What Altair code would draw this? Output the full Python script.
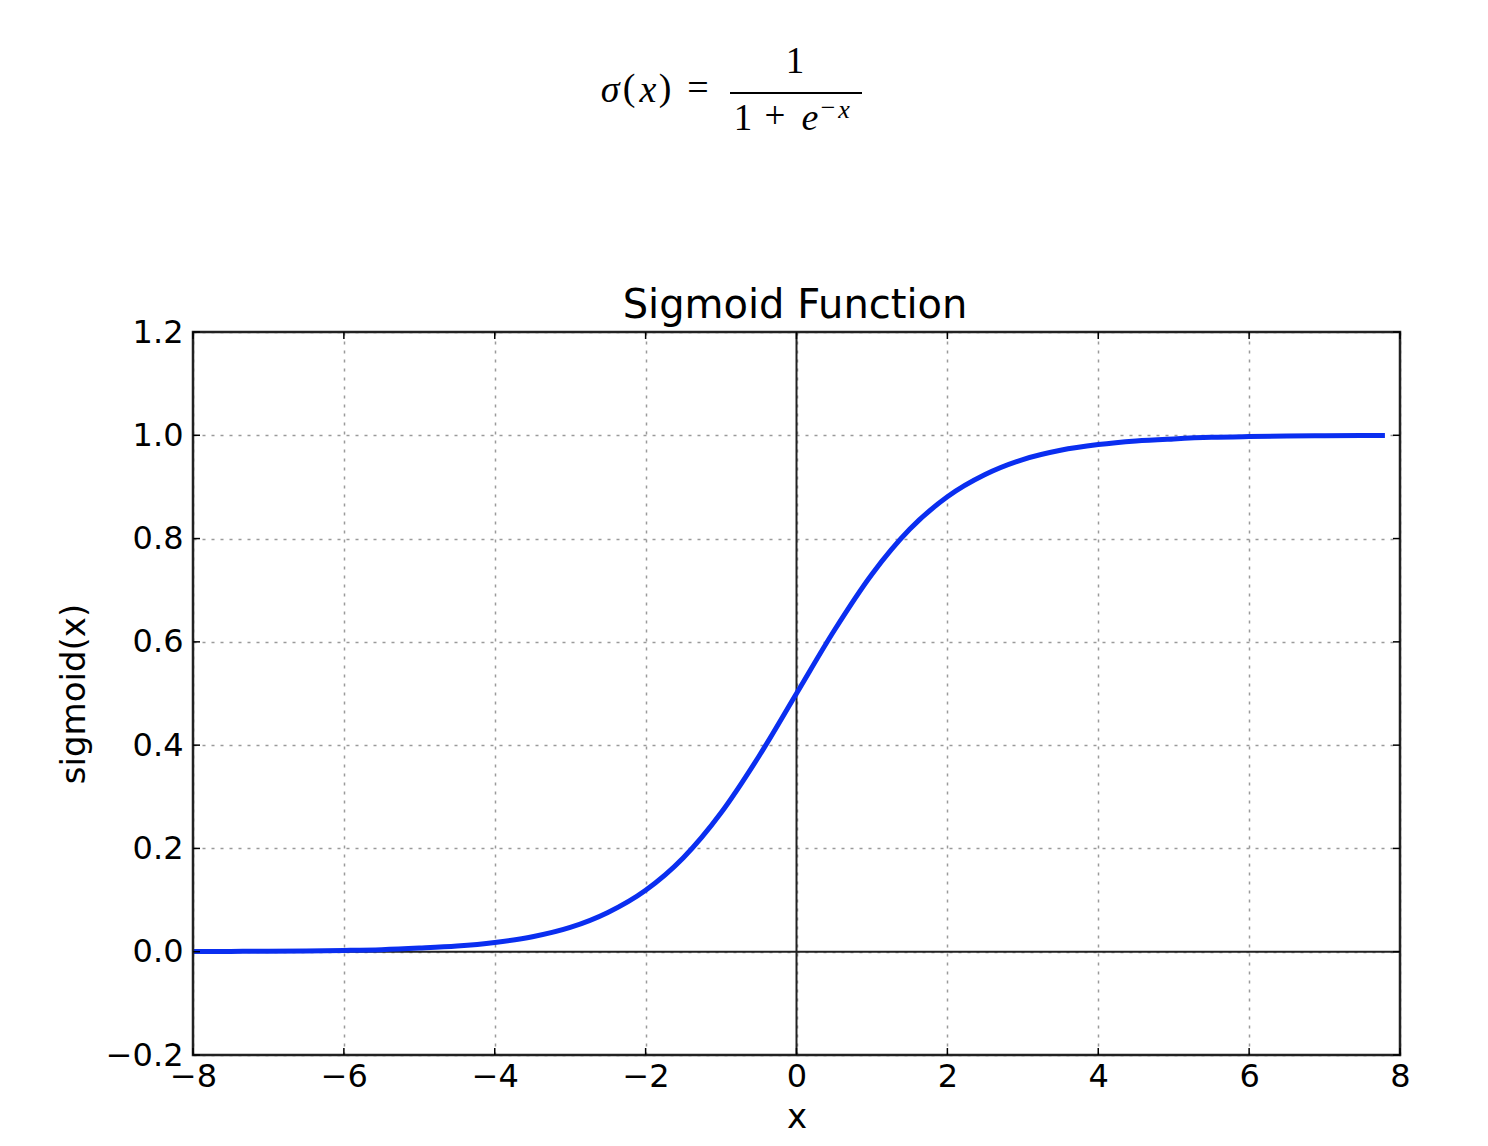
import altair as alt
import pandas as pd

# --- data ---
curve_x = [-8, -7.5, -7, -6.5, -6, -5.5, -5, -4.5, -4, -3.5, -3, -2.5, -2, -1.5, -1, -0.5,
           0, 0.5, 1, 1.5, 2, 2.5, 3, 3.5, 4, 4.5, 5, 5.5, 6, 6.5, 7, 7.5, 7.8]
curve_y = [0.0003, 0.0006, 0.0009, 0.0015, 0.0025, 0.004, 0.007, 0.011, 0.018, 0.029, 0.047,
           0.076, 0.119, 0.182, 0.269, 0.378, 0.5, 0.622, 0.731, 0.818, 0.881, 0.924, 0.953,
           0.971, 0.982, 0.989, 0.993, 0.996, 0.9975, 0.9985, 0.999, 0.9994, 0.9996]
x_ticks = [-8, -6, -4, -2, 0, 2, 4, 6, 8]
y_ticks = [-0.2, 0.0, 0.2, 0.4, 0.6, 0.8, 1.0, 1.2]
title_text = "Sigmoid Function"
x_title = "x"
y_title = "sigmoid(x)"

W, H = 1207, 723
TICK = 7
SANS = "DejaVu Sans"
SERIF = "Liberation Serif"

curve = pd.DataFrame({"x": curve_x, "y": curve_y})
xt = pd.DataFrame({"x": x_ticks})
yt = pd.DataFrame({"y": y_ticks})
zero = pd.DataFrame({"v": [0]})

xscale = alt.Scale(domain=[-8, 8], nice=False, zero=False)
yscale = alt.Scale(domain=[-0.2, 1.2], nice=False, zero=False)

xaxis = alt.Axis(values=x_ticks, format="d", title=x_title, labelFlush=False,
                 labelOverlap=False, labelPadding=6, titlePadding=8)
yaxis = alt.Axis(values=y_ticks, format=".1f", title=y_title, labelFlush=False,
                 labelOverlap=False, labelPadding=10, titlePadding=14)

line = alt.Chart(curve).mark_line(color="#0a2ef0", strokeWidth=5, interpolate="monotone").encode(
    x=alt.X("x:Q", scale=xscale, axis=xaxis),
    y=alt.Y("y:Q", scale=yscale, axis=yaxis),
)

zero_v = alt.Chart(zero).mark_rule(color="#222222", strokeWidth=2).encode(
    x=alt.X("v:Q", scale=xscale))
zero_h = alt.Chart(zero).mark_rule(color="#222222", strokeWidth=2).encode(
    y=alt.Y("v:Q", scale=yscale))

tick_style = dict(color="black", strokeWidth=1.5)
xt_bot = alt.Chart(xt).mark_rule(**tick_style).encode(
    x=alt.X("x:Q", scale=xscale), y=alt.value(H), y2=alt.value(H - TICK))
xt_top = alt.Chart(xt).mark_rule(**tick_style).encode(
    x=alt.X("x:Q", scale=xscale), y=alt.value(0), y2=alt.value(TICK))
yt_left = alt.Chart(yt).mark_rule(**tick_style).encode(
    y=alt.Y("y:Q", scale=yscale), x=alt.value(0), x2=alt.value(TICK))
yt_right = alt.Chart(yt).mark_rule(**tick_style).encode(
    y=alt.Y("y:Q", scale=yscale), x=alt.value(W), x2=alt.value(W - TICK))

# solid frame around the plot area
frame = alt.Chart(zero).mark_rect(fillOpacity=0, stroke="#222222", strokeWidth=2.5).encode(
    x=alt.value(0), x2=alt.value(W), y=alt.value(0), y2=alt.value(H))

# chart title as a text mark (so the formula above does not push it)
title_mark = alt.Chart(pd.DataFrame({"t": [title_text]})).mark_text(
    font=SANS, fontSize=40, align="center", baseline="alphabetic", color="black"
).encode(text="t:N", x=alt.value(602), y=alt.value(-14))

# --- formula sigma(x) = 1 / (1 + e^{-x}) as text pieces ---
formula_pieces = [
    # text, x, y(baseline), size, italic
    ("σ", 417, -230, 38, True),
    ("(", 436, -232, 38, False),
    ("x", 455, -230, 38, True),
    (")", 472, -232, 38, False),
    ("=", 505, -232, 38, False),
    ("1", 602, -259, 37, False),
    ("1", 550, -202, 37, False),
    ("+", 582, -204, 37, False),
    ("e", 617, -202, 38, True),
    ("−", 635, -216, 26, False),
    ("x", 651, -214, 26, True),
]
formula_layers = []
for txt, px, py, sz, it in formula_pieces:
    formula_layers.append(
        alt.Chart(pd.DataFrame({"t": [txt]})).mark_text(
            font=SERIF, fontSize=sz, fontStyle="italic" if it else "normal",
            align="center", baseline="alphabetic", color="black"
        ).encode(text="t:N", x=alt.value(px), y=alt.value(py))
    )
bar = alt.Chart(zero).mark_rule(color="black", strokeWidth=2).encode(
    x=alt.value(537), x2=alt.value(669), y=alt.value(-239))

chart = alt.layer(
    zero_v, zero_h, line, frame, xt_bot, xt_top, yt_left, yt_right, title_mark, bar,
    *formula_layers
).properties(
    width=W, height=H,
    background="white",
    autosize=alt.AutoSizeParams(type="none"),
    padding={"left": 185, "top": 324, "right": 80, "bottom": 80},
).configure_view(
    stroke="black", strokeWidth=2
).configure_axis(
    labelFont=SANS, labelFontSize=32, labelColor="black",
    titleFont=SANS, titleFontSize=34, titleFontWeight="normal", titleColor="black",
    ticks=False, domain=False, grid=True, gridColor="#9a9a9a", gridDash=[3, 6], gridWidth=1.5,
)

chart.save("out.html", embed_options={"renderer": "svg", "actions": False})
